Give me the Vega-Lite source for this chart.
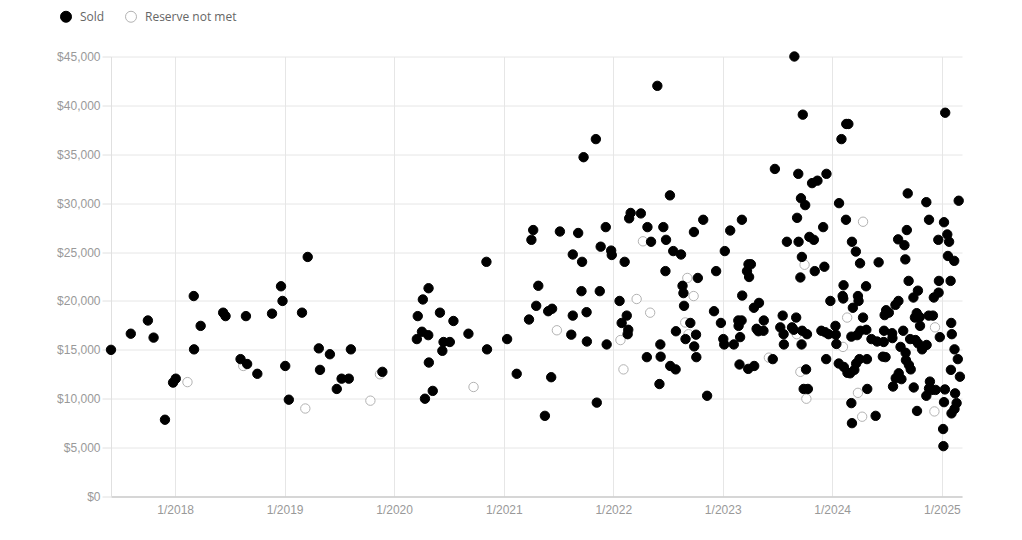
{
  "$schema": "https://vega.github.io/schema/vega-lite/v6.json",
  "autosize": {"type": "none"},
  "padding": {"left": 111, "top": 56.5, "right": 60, "bottom": 43.5},
  "width": 851,
  "height": 440,
  "background": "#ffffff",
  "config": {
    "view": {"stroke": null},
    "axis": {"labelFont": "Liberation Sans", "labelFontSize": 12, "labelColor": "#999999", "gridColor": "#e6e6e6", "gridWidth": 1, "title": null},
    "legend": {
      "orient": "none", "legendX": -51, "legendY": -46, "direction": "horizontal",
      "title": null, "symbolType": "circle", "symbolSize": 121, "symbolStrokeWidth": 1,
      "labelFont": "Open Sans", "labelFontSize": 12, "labelColor": "#666666",
      "labelOffset": 8, "columnPadding": 18, "padding": 0
    }
  },
  "data": {"values": [
    {"d":"2018-02-11","p":11700,"s":"Reserve not met"},
    {"d":"2018-08-16","p":13350,"s":"Reserve not met"},
    {"d":"2019-03-11","p":9000,"s":"Reserve not met"},
    {"d":"2019-10-14","p":9800,"s":"Reserve not met"},
    {"d":"2019-11-15","p":12500,"s":"Reserve not met"},
    {"d":"2020-09-22","p":11200,"s":"Reserve not met"},
    {"d":"2022-04-10","p":26100,"s":"Reserve not met"},
    {"d":"2021-06-27","p":17000,"s":"Reserve not met"},
    {"d":"2022-03-20","p":20200,"s":"Reserve not met"},
    {"d":"2022-01-25","p":16000,"s":"Reserve not met"},
    {"d":"2022-05-04","p":18800,"s":"Reserve not met"},
    {"d":"2022-02-04","p":13000,"s":"Reserve not met"},
    {"d":"2022-09-05","p":22350,"s":"Reserve not met"},
    {"d":"2022-09-26","p":20500,"s":"Reserve not met"},
    {"d":"2022-08-29","p":17800,"s":"Reserve not met"},
    {"d":"2022-09-09","p":16600,"s":"Reserve not met"},
    {"d":"2023-06-04","p":14200,"s":"Reserve not met"},
    {"d":"2023-10-01","p":23700,"s":"Reserve not met"},
    {"d":"2023-09-17","p":12750,"s":"Reserve not met"},
    {"d":"2023-10-07","p":10000,"s":"Reserve not met"},
    {"d":"2024-04-13","p":28100,"s":"Reserve not met"},
    {"d":"2024-02-20","p":18300,"s":"Reserve not met"},
    {"d":"2024-12-09","p":17300,"s":"Reserve not met"},
    {"d":"2023-09-05","p":16600,"s":"Reserve not met"},
    {"d":"2024-02-06","p":15300,"s":"Reserve not met"},
    {"d":"2024-03-27","p":10600,"s":"Reserve not met"},
    {"d":"2024-04-10","p":8160,"s":"Reserve not met"},
    {"d":"2024-12-07","p":8700,"s":"Reserve not met"},
    {"d":"2017-06-01","p":15000,"s":"Sold"},
    {"d":"2017-08-06","p":16650,"s":"Sold"},
    {"d":"2017-10-02","p":18000,"s":"Sold"},
    {"d":"2017-10-21","p":16250,"s":"Sold"},
    {"d":"2017-11-28","p":7850,"s":"Sold"},
    {"d":"2017-12-25","p":11650,"s":"Sold"},
    {"d":"2018-01-03","p":12050,"s":"Sold"},
    {"d":"2018-03-04","p":20500,"s":"Sold"},
    {"d":"2018-03-05","p":15050,"s":"Sold"},
    {"d":"2018-03-27","p":17450,"s":"Sold"},
    {"d":"2018-06-10","p":18800,"s":"Sold"},
    {"d":"2018-06-18","p":18450,"s":"Sold"},
    {"d":"2018-08-07","p":14050,"s":"Sold"},
    {"d":"2018-08-29","p":13550,"s":"Sold"},
    {"d":"2018-08-25","p":18450,"s":"Sold"},
    {"d":"2018-10-02","p":12550,"s":"Sold"},
    {"d":"2018-11-20","p":18700,"s":"Sold"},
    {"d":"2018-12-20","p":21500,"s":"Sold"},
    {"d":"2018-12-25","p":20000,"s":"Sold"},
    {"d":"2019-01-03","p":13350,"s":"Sold"},
    {"d":"2019-01-15","p":9900,"s":"Sold"},
    {"d":"2019-03-19","p":24500,"s":"Sold"},
    {"d":"2019-02-28","p":18800,"s":"Sold"},
    {"d":"2019-04-25","p":15150,"s":"Sold"},
    {"d":"2019-04-29","p":12950,"s":"Sold"},
    {"d":"2019-06-01","p":14550,"s":"Sold"},
    {"d":"2019-06-24","p":11000,"s":"Sold"},
    {"d":"2019-07-10","p":12050,"s":"Sold"},
    {"d":"2019-08-03","p":12050,"s":"Sold"},
    {"d":"2019-08-10","p":15050,"s":"Sold"},
    {"d":"2019-11-23","p":12750,"s":"Sold"},
    {"d":"2020-03-17","p":16100,"s":"Sold"},
    {"d":"2020-03-20","p":18450,"s":"Sold"},
    {"d":"2020-04-03","p":16850,"s":"Sold"},
    {"d":"2020-04-06","p":20150,"s":"Sold"},
    {"d":"2020-04-25","p":21300,"s":"Sold"},
    {"d":"2020-04-24","p":16500,"s":"Sold"},
    {"d":"2020-04-26","p":13700,"s":"Sold"},
    {"d":"2020-04-13","p":10000,"s":"Sold"},
    {"d":"2020-05-09","p":10800,"s":"Sold"},
    {"d":"2020-06-02","p":18800,"s":"Sold"},
    {"d":"2020-06-14","p":15800,"s":"Sold"},
    {"d":"2020-07-05","p":15800,"s":"Sold"},
    {"d":"2020-06-10","p":14900,"s":"Sold"},
    {"d":"2020-07-17","p":17950,"s":"Sold"},
    {"d":"2020-09-05","p":16650,"s":"Sold"},
    {"d":"2020-11-04","p":24000,"s":"Sold"},
    {"d":"2020-11-06","p":15050,"s":"Sold"},
    {"d":"2021-01-12","p":16100,"s":"Sold"},
    {"d":"2021-02-13","p":12550,"s":"Sold"},
    {"d":"2021-05-18","p":8250,"s":"Sold"},
    {"d":"2021-03-26","p":18100,"s":"Sold"},
    {"d":"2021-04-19","p":19500,"s":"Sold"},
    {"d":"2021-04-26","p":21550,"s":"Sold"},
    {"d":"2021-04-09","p":27250,"s":"Sold"},
    {"d":"2021-04-03","p":26250,"s":"Sold"},
    {"d":"2021-07-07","p":27100,"s":"Sold"},
    {"d":"2021-09-06","p":26950,"s":"Sold"},
    {"d":"2021-08-19","p":24750,"s":"Sold"},
    {"d":"2021-09-19","p":24000,"s":"Sold"},
    {"d":"2021-09-24","p":34700,"s":"Sold"},
    {"d":"2021-11-04","p":36550,"s":"Sold"},
    {"d":"2021-12-07","p":27550,"s":"Sold"},
    {"d":"2021-11-20","p":25550,"s":"Sold"},
    {"d":"2021-12-25","p":25150,"s":"Sold"},
    {"d":"2021-12-27","p":24700,"s":"Sold"},
    {"d":"2022-02-08","p":24000,"s":"Sold"},
    {"d":"2022-02-28","p":29000,"s":"Sold"},
    {"d":"2022-02-23","p":28450,"s":"Sold"},
    {"d":"2022-04-03","p":28950,"s":"Sold"},
    {"d":"2022-04-25","p":27550,"s":"Sold"},
    {"d":"2022-05-07","p":26050,"s":"Sold"},
    {"d":"2021-05-29","p":18950,"s":"Sold"},
    {"d":"2021-06-11","p":19200,"s":"Sold"},
    {"d":"2021-08-19","p":18500,"s":"Sold"},
    {"d":"2021-08-14","p":16550,"s":"Sold"},
    {"d":"2021-09-17","p":21000,"s":"Sold"},
    {"d":"2021-11-17","p":21000,"s":"Sold"},
    {"d":"2021-10-04","p":18850,"s":"Sold"},
    {"d":"2021-10-05","p":15850,"s":"Sold"},
    {"d":"2021-12-10","p":15550,"s":"Sold"},
    {"d":"2021-06-08","p":12200,"s":"Sold"},
    {"d":"2021-11-07","p":9600,"s":"Sold"},
    {"d":"2022-01-22","p":20000,"s":"Sold"},
    {"d":"2022-02-15","p":18500,"s":"Sold"},
    {"d":"2022-01-29","p":17750,"s":"Sold"},
    {"d":"2022-02-20","p":17050,"s":"Sold"},
    {"d":"2022-02-18","p":16600,"s":"Sold"},
    {"d":"2022-04-23","p":14250,"s":"Sold"},
    {"d":"2022-05-28","p":42000,"s":"Sold"},
    {"d":"2022-07-09","p":30800,"s":"Sold"},
    {"d":"2022-06-17","p":27550,"s":"Sold"},
    {"d":"2022-06-26","p":26250,"s":"Sold"},
    {"d":"2022-07-20","p":25100,"s":"Sold"},
    {"d":"2022-08-15","p":24750,"s":"Sold"},
    {"d":"2022-10-28","p":28300,"s":"Sold"},
    {"d":"2022-09-27","p":27050,"s":"Sold"},
    {"d":"2022-06-24","p":23050,"s":"Sold"},
    {"d":"2022-10-10","p":22350,"s":"Sold"},
    {"d":"2022-08-20","p":21550,"s":"Sold"},
    {"d":"2022-08-23","p":20800,"s":"Sold"},
    {"d":"2022-08-25","p":19500,"s":"Sold"},
    {"d":"2022-09-15","p":17750,"s":"Sold"},
    {"d":"2022-07-29","p":16900,"s":"Sold"},
    {"d":"2022-08-30","p":16100,"s":"Sold"},
    {"d":"2022-10-04","p":16550,"s":"Sold"},
    {"d":"2022-09-28","p":15350,"s":"Sold"},
    {"d":"2022-06-07","p":15550,"s":"Sold"},
    {"d":"2022-06-08","p":14300,"s":"Sold"},
    {"d":"2022-07-10","p":13350,"s":"Sold"},
    {"d":"2022-07-28","p":13000,"s":"Sold"},
    {"d":"2022-10-05","p":14250,"s":"Sold"},
    {"d":"2022-06-04","p":11500,"s":"Sold"},
    {"d":"2022-11-10","p":10300,"s":"Sold"},
    {"d":"2023-01-26","p":27200,"s":"Sold"},
    {"d":"2023-03-06","p":28300,"s":"Sold"},
    {"d":"2023-01-08","p":25100,"s":"Sold"},
    {"d":"2022-12-10","p":23050,"s":"Sold"},
    {"d":"2022-12-03","p":18950,"s":"Sold"},
    {"d":"2022-12-26","p":17750,"s":"Sold"},
    {"d":"2023-01-03","p":16100,"s":"Sold"},
    {"d":"2023-01-06","p":15550,"s":"Sold"},
    {"d":"2023-02-07","p":15550,"s":"Sold"},
    {"d":"2023-02-28","p":16300,"s":"Sold"},
    {"d":"2023-02-22","p":18000,"s":"Sold"},
    {"d":"2023-03-05","p":18000,"s":"Sold"},
    {"d":"2023-02-23","p":17450,"s":"Sold"},
    {"d":"2023-03-07","p":20550,"s":"Sold"},
    {"d":"2023-03-28","p":23750,"s":"Sold"},
    {"d":"2023-04-05","p":23750,"s":"Sold"},
    {"d":"2023-03-23","p":23050,"s":"Sold"},
    {"d":"2023-03-30","p":22450,"s":"Sold"},
    {"d":"2023-04-15","p":19300,"s":"Sold"},
    {"d":"2023-05-02","p":19800,"s":"Sold"},
    {"d":"2023-05-18","p":18000,"s":"Sold"},
    {"d":"2023-04-24","p":17150,"s":"Sold"},
    {"d":"2023-04-30","p":16900,"s":"Sold"},
    {"d":"2023-05-17","p":16950,"s":"Sold"},
    {"d":"2023-02-26","p":13500,"s":"Sold"},
    {"d":"2023-03-27","p":13050,"s":"Sold"},
    {"d":"2023-04-16","p":13350,"s":"Sold"},
    {"d":"2023-06-17","p":14050,"s":"Sold"},
    {"d":"2023-06-24","p":33500,"s":"Sold"},
    {"d":"2023-09-10","p":33000,"s":"Sold"},
    {"d":"2023-09-19","p":30500,"s":"Sold"},
    {"d":"2023-10-03","p":29800,"s":"Sold"},
    {"d":"2023-09-06","p":28500,"s":"Sold"},
    {"d":"2023-08-03","p":26050,"s":"Sold"},
    {"d":"2023-09-11","p":26050,"s":"Sold"},
    {"d":"2023-09-22","p":24500,"s":"Sold"},
    {"d":"2023-09-17","p":22400,"s":"Sold"},
    {"d":"2023-07-20","p":18500,"s":"Sold"},
    {"d":"2023-09-03","p":18300,"s":"Sold"},
    {"d":"2023-07-12","p":17300,"s":"Sold"},
    {"d":"2023-07-23","p":16600,"s":"Sold"},
    {"d":"2023-07-24","p":15550,"s":"Sold"},
    {"d":"2023-08-20","p":17300,"s":"Sold"},
    {"d":"2023-08-26","p":17050,"s":"Sold"},
    {"d":"2023-09-23","p":16950,"s":"Sold"},
    {"d":"2023-09-21","p":15550,"s":"Sold"},
    {"d":"2023-09-28","p":11000,"s":"Sold"},
    {"d":"2023-10-26","p":32050,"s":"Sold"},
    {"d":"2023-11-13","p":32300,"s":"Sold"},
    {"d":"2023-12-13","p":33000,"s":"Sold"},
    {"d":"2023-08-28","p":45000,"s":"Sold"},
    {"d":"2023-09-25","p":39050,"s":"Sold"},
    {"d":"2024-02-17","p":38100,"s":"Sold"},
    {"d":"2024-02-24","p":38100,"s":"Sold"},
    {"d":"2024-02-01","p":36550,"s":"Sold"},
    {"d":"2025-01-12","p":39250,"s":"Sold"},
    {"d":"2024-01-24","p":30000,"s":"Sold"},
    {"d":"2024-02-16","p":28300,"s":"Sold"},
    {"d":"2023-12-02","p":27550,"s":"Sold"},
    {"d":"2023-10-17","p":26550,"s":"Sold"},
    {"d":"2023-11-01","p":26250,"s":"Sold"},
    {"d":"2023-11-04","p":23050,"s":"Sold"},
    {"d":"2023-12-06","p":23500,"s":"Sold"},
    {"d":"2024-03-07","p":26050,"s":"Sold"},
    {"d":"2024-03-20","p":25050,"s":"Sold"},
    {"d":"2024-04-03","p":23850,"s":"Sold"},
    {"d":"2024-06-04","p":23950,"s":"Sold"},
    {"d":"2024-09-09","p":31000,"s":"Sold"},
    {"d":"2024-11-10","p":30100,"s":"Sold"},
    {"d":"2025-02-26","p":30250,"s":"Sold"},
    {"d":"2024-11-19","p":28300,"s":"Sold"},
    {"d":"2025-01-08","p":28050,"s":"Sold"},
    {"d":"2024-09-06","p":27250,"s":"Sold"},
    {"d":"2024-08-08","p":26300,"s":"Sold"},
    {"d":"2024-08-29","p":25700,"s":"Sold"},
    {"d":"2024-09-01","p":24250,"s":"Sold"},
    {"d":"2024-12-20","p":26250,"s":"Sold"},
    {"d":"2025-01-19","p":26800,"s":"Sold"},
    {"d":"2025-01-25","p":26050,"s":"Sold"},
    {"d":"2025-01-21","p":24600,"s":"Sold"},
    {"d":"2025-02-11","p":24100,"s":"Sold"},
    {"d":"2024-02-08","p":21600,"s":"Sold"},
    {"d":"2024-04-23","p":21500,"s":"Sold"},
    {"d":"2023-12-26","p":20000,"s":"Sold"},
    {"d":"2024-02-05","p":20500,"s":"Sold"},
    {"d":"2024-02-07","p":20250,"s":"Sold"},
    {"d":"2024-03-27","p":20500,"s":"Sold"},
    {"d":"2024-03-29","p":20000,"s":"Sold"},
    {"d":"2024-03-10","p":19300,"s":"Sold"},
    {"d":"2024-04-13","p":18300,"s":"Sold"},
    {"d":"2024-09-12","p":22050,"s":"Sold"},
    {"d":"2024-10-13","p":21050,"s":"Sold"},
    {"d":"2024-09-28","p":20350,"s":"Sold"},
    {"d":"2024-12-22","p":22050,"s":"Sold"},
    {"d":"2025-01-30","p":22050,"s":"Sold"},
    {"d":"2024-12-21","p":20850,"s":"Sold"},
    {"d":"2024-12-05","p":20350,"s":"Sold"},
    {"d":"2024-08-09","p":20000,"s":"Sold"},
    {"d":"2024-07-30","p":19600,"s":"Sold"},
    {"d":"2024-06-29","p":19050,"s":"Sold"},
    {"d":"2024-07-08","p":18800,"s":"Sold"},
    {"d":"2024-06-24","p":18550,"s":"Sold"},
    {"d":"2024-10-09","p":18750,"s":"Sold"},
    {"d":"2024-10-03","p":18300,"s":"Sold"},
    {"d":"2024-10-19","p":18350,"s":"Sold"},
    {"d":"2024-10-20","p":17450,"s":"Sold"},
    {"d":"2024-11-18","p":18500,"s":"Sold"},
    {"d":"2024-12-02","p":18500,"s":"Sold"},
    {"d":"2025-02-01","p":17750,"s":"Sold"},
    {"d":"2025-02-03","p":16600,"s":"Sold"},
    {"d":"2024-12-25","p":16300,"s":"Sold"},
    {"d":"2025-02-12","p":15050,"s":"Sold"},
    {"d":"2025-02-23","p":14050,"s":"Sold"},
    {"d":"2025-01-31","p":12950,"s":"Sold"},
    {"d":"2025-03-02","p":12250,"s":"Sold"},
    {"d":"2023-10-09","p":16600,"s":"Sold"},
    {"d":"2023-11-26","p":16950,"s":"Sold"},
    {"d":"2023-12-09","p":16800,"s":"Sold"},
    {"d":"2023-12-20","p":16600,"s":"Sold"},
    {"d":"2024-01-12","p":17450,"s":"Sold"},
    {"d":"2024-01-13","p":16550,"s":"Sold"},
    {"d":"2024-01-15","p":15600,"s":"Sold"},
    {"d":"2023-12-12","p":14050,"s":"Sold"},
    {"d":"2024-03-05","p":16350,"s":"Sold"},
    {"d":"2024-03-24","p":16500,"s":"Sold"},
    {"d":"2024-04-04","p":16950,"s":"Sold"},
    {"d":"2024-04-24","p":17050,"s":"Sold"},
    {"d":"2024-05-11","p":16100,"s":"Sold"},
    {"d":"2024-05-30","p":15850,"s":"Sold"},
    {"d":"2024-06-21","p":15800,"s":"Sold"},
    {"d":"2024-06-22","p":16950,"s":"Sold"},
    {"d":"2024-07-19","p":16700,"s":"Sold"},
    {"d":"2024-07-20","p":16200,"s":"Sold"},
    {"d":"2024-08-25","p":16950,"s":"Sold"},
    {"d":"2024-09-17","p":16100,"s":"Sold"},
    {"d":"2024-10-05","p":16000,"s":"Sold"},
    {"d":"2024-10-14","p":15650,"s":"Sold"},
    {"d":"2024-10-27","p":15050,"s":"Sold"},
    {"d":"2024-11-11","p":15500,"s":"Sold"},
    {"d":"2024-08-16","p":15300,"s":"Sold"},
    {"d":"2024-09-02","p":14700,"s":"Sold"},
    {"d":"2024-09-03","p":13950,"s":"Sold"},
    {"d":"2024-09-13","p":13450,"s":"Sold"},
    {"d":"2024-09-19","p":13000,"s":"Sold"},
    {"d":"2024-06-18","p":14300,"s":"Sold"},
    {"d":"2024-06-27","p":14250,"s":"Sold"},
    {"d":"2024-01-23","p":13600,"s":"Sold"},
    {"d":"2024-02-09","p":13250,"s":"Sold"},
    {"d":"2024-02-21","p":12650,"s":"Sold"},
    {"d":"2024-03-01","p":12600,"s":"Sold"},
    {"d":"2024-03-15","p":12950,"s":"Sold"},
    {"d":"2024-03-21","p":13600,"s":"Sold"},
    {"d":"2024-04-01","p":14050,"s":"Sold"},
    {"d":"2024-04-26","p":14050,"s":"Sold"},
    {"d":"2023-10-06","p":13000,"s":"Sold"},
    {"d":"2023-10-12","p":11000,"s":"Sold"},
    {"d":"2024-08-10","p":12600,"s":"Sold"},
    {"d":"2024-07-31","p":12100,"s":"Sold"},
    {"d":"2024-07-22","p":11250,"s":"Sold"},
    {"d":"2024-08-19","p":12000,"s":"Sold"},
    {"d":"2024-09-29","p":11150,"s":"Sold"},
    {"d":"2024-11-22","p":11750,"s":"Sold"},
    {"d":"2024-11-19","p":11050,"s":"Sold"},
    {"d":"2024-11-10","p":10300,"s":"Sold"},
    {"d":"2024-11-28","p":10900,"s":"Sold"},
    {"d":"2024-12-11","p":10900,"s":"Sold"},
    {"d":"2025-01-11","p":10950,"s":"Sold"},
    {"d":"2025-01-08","p":9650,"s":"Sold"},
    {"d":"2025-02-14","p":10550,"s":"Sold"},
    {"d":"2025-02-19","p":9550,"s":"Sold"},
    {"d":"2025-02-12","p":8950,"s":"Sold"},
    {"d":"2025-02-02","p":8500,"s":"Sold"},
    {"d":"2024-04-27","p":11000,"s":"Sold"},
    {"d":"2024-03-05","p":9550,"s":"Sold"},
    {"d":"2024-03-07","p":7500,"s":"Sold"},
    {"d":"2024-05-25","p":8250,"s":"Sold"},
    {"d":"2024-10-10","p":8750,"s":"Sold"},
    {"d":"2025-01-05","p":6900,"s":"Sold"},
    {"d":"2025-01-06","p":5150,"s":"Sold"}
  ]},
  "mark": {"type": "point", "shape": "circle", "filled": true, "opacity": 1, "size": 88, "strokeWidth": 1},
  "encoding": {
    "x": {
      "field": "d", "type": "temporal",
      "scale": {"type": "utc", "domain": ["2017-06-01", "2025-03-09"], "nice": false},
      "axis": {
        "format": "%-m/%Y", "tickCount": {"interval": "year", "step": 1},
        "grid": true, "ticks": false, "labelPadding": 8,
        "domainColor": "#cccccc", "domainWidth": 1.5, "labelFlush": false, "labelOverlap": false
      }
    },
    "y": {
      "field": "p", "type": "quantitative",
      "scale": {"domain": [0, 45000], "nice": false, "zero": true},
      "axis": {
        "values": [0, 5000, 10000, 15000, 20000, 25000, 30000, 35000, 40000, 45000],
        "format": "$,.0f", "grid": true, "ticks": true, "tickSize": 9, "tickColor": "#e0e0e0",
        "labelPadding": 2, "domainColor": "#e0e0e0", "labelFlush": false
      }
    },
    "fill": {
      "field": "s", "type": "nominal",
      "scale": {"domain": ["Sold", "Reserve not met"], "range": ["#000000", "#ffffff"]}
    },
    "stroke": {
      "field": "s", "type": "nominal",
      "scale": {"domain": ["Sold", "Reserve not met"], "range": ["#000000", "#b3b3b3"]}
    }
  }
}
